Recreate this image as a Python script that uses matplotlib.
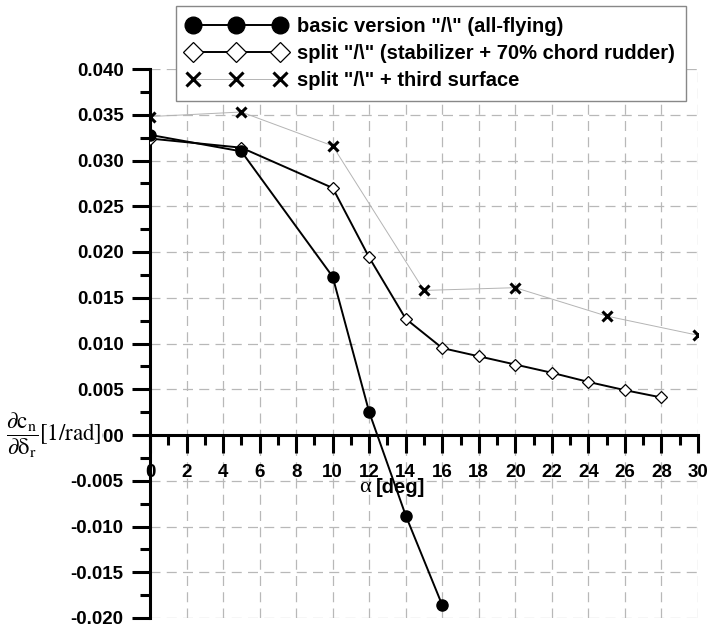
"""Rudder yaw-control derivative vs angle of attack for three tail layouts."""

import matplotlib
matplotlib.use("Agg")
import matplotlib.pyplot as plt
from matplotlib.ticker import MultipleLocator, FuncFormatter
from matplotlib.transforms import blended_transform_factory

plt.rcParams["font.family"] = ["Liberation Sans", "DejaVu Sans"]
plt.rcParams["mathtext.fontset"] = "stix"

# basic version (all-flying)
alpha_basic = [0, 5, 10, 12, 14, 16]
cn_basic = [0.0328, 0.0310, 0.0173, 0.0025, -0.0088, -0.0186]

# split (stabilizer + 70% chord rudder)
alpha_split = [0, 5, 10, 12, 14, 16, 18, 20, 22, 24, 26, 28]
cn_split = [0.0324, 0.0314, 0.0270, 0.0194, 0.0127, 0.0095,
            0.0086, 0.0077, 0.0068, 0.0058, 0.0049, 0.0041]

# split + third surface
alpha_third = [0, 5, 10, 15, 20, 25, 30]
cn_third = [0.0348, 0.0353, 0.0316, 0.0158, 0.0161, 0.0130, 0.0109]

labels = ['basic version "/\\" (all-flying)',
          'split "/\\" (stabilizer + 70% chord rudder)',
          'split "/\\" + third surface']

fig = plt.figure(figsize=(7.07, 6.27), dpi=100)
ax = fig.add_axes([150 / 707, 9 / 627, 548 / 707, 549 / 627])

l1, = ax.plot(alpha_basic, cn_basic, color="black", lw=1.4, marker="o",
              ms=8, mfc="black", mec="black", zorder=4)
l2, = ax.plot(alpha_split, cn_split, color="black", lw=1.4, marker="D",
              ms=6.5, mfc="white", mec="black", mew=0.9, zorder=3)
l3, = ax.plot(alpha_third, cn_third, color="#b4b4b4", lw=0.7, marker="x",
              ms=7, mec="black", mew=2.2, zorder=3)

ax.set_xlim(0, 30)
ax.set_ylim(-0.020, 0.040)

ax.spines["top"].set_visible(False)
ax.spines["right"].set_visible(False)
ax.spines["bottom"].set_position(("data", 0))
for s in ("left", "bottom"):
    ax.spines[s].set_linewidth(2.2)

ax.xaxis.set_major_locator(MultipleLocator(2))
ax.xaxis.set_minor_locator(MultipleLocator(1))
ax.yaxis.set_major_locator(MultipleLocator(0.005))
ax.yaxis.set_minor_locator(MultipleLocator(0.0025))
ax.yaxis.set_major_formatter(FuncFormatter(lambda v, p: f"{v:.3f}".replace("-0.000", "0.000")))

ax.tick_params(which="major", direction="out", length=13, width=2.2,
               labelsize=13.5, pad=6)
ax.tick_params(which="minor", direction="out", length=7, width=2.2)
ax.tick_params(axis="x", which="major", pad=8)
for t in ax.get_xticklabels() + ax.get_yticklabels():
    t.set_fontweight("bold")

ax.grid(True, which="major", color="#b8b8b8", lw=0.9, ls=(0, (8, 5)), zorder=0)
ax.set_axisbelow(True)

# x label just under the tick labels
ax.text(11.45, -0.0057, "α", fontsize=16, family="Liberation Serif",
        ha="left", va="center")
ax.text(12.35, -0.0057, "[deg]", fontsize=14.5, fontweight="bold",
        ha="left", va="center")

# y label sits over the "0.000" label, as in the original
tr = blended_transform_factory(fig.transFigure, ax.transData)
ax.text(6 / 707, 0, r"$\dfrac{\partial \mathrm{c_n}}{\partial \mathrm{\delta_r}}$[1/rad]",
        transform=tr, fontsize=16.5, ha="left", va="center", family="STIXGeneral",
        bbox=dict(facecolor="white", edgecolor="none", pad=0.5), zorder=10,
        clip_on=False)

fig.legend([l1, l2, l3], labels, loc="upper left",
           bbox_to_anchor=(176 / 707, 1 - 6 / 627), borderaxespad=0,
           numpoints=3, markerscale=1.5, handlelength=4.9, handletextpad=0.55,
           borderpad=0.55, labelspacing=0.4, fancybox=False, framealpha=1,
           edgecolor="#888888", prop=dict(size=14.5, weight="bold"))

fig.savefig("out.png", dpi=100)
